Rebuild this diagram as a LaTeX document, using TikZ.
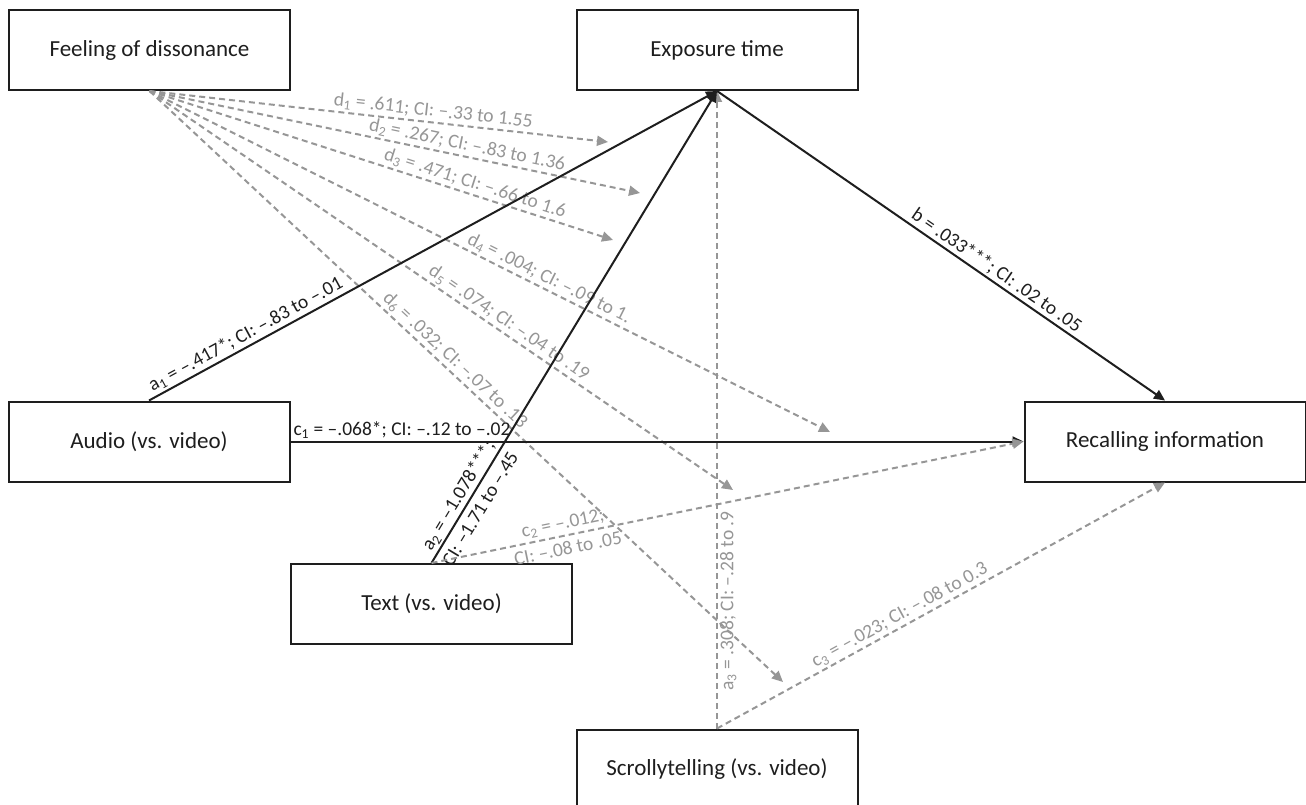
\documentclass[tikz,border=0pt]{standalone}
\usepackage{fontspec}
\setmainfont{Carlito}
\usetikzlibrary{arrows.meta, positioning, calc}
\definecolor{inkblack}{HTML}{1E1E1E}
\definecolor{modgray}{HTML}{969696}

\begin{document}
\begin{tikzpicture}[x=1pt, y=-1pt,
  >={Triangle[length=11pt, width=10pt]},
  varbox/.style={draw=inkblack, line width=2pt, fill=white, inner sep=0pt,
    minimum width=281pt, minimum height=80pt,
    font=\fontsize{23}{27}\selectfont, text=inkblack},
  effect/.style={->, line width=2pt, inkblack},
  modarr/.style={->, line width=2pt, modgray, dash pattern=on 6pt off 4pt},
  lbl/.style={font=\fontsize{19.5}{26}\selectfont, text=inkblack, sloped, inner sep=2pt},
  glbl/.style={lbl, text=modgray},
]
\useasboundingbox (0,0) rectangle (1306,805);

% === Variables ===
\node[varbox] (feel) at (149.5,50) {Feeling of dissonance};
\node[varbox] (expo) at (717,50) {Exposure time};
\node[varbox] (audio) at (149,441.5) {Audio (vs. video)};
\node[varbox] (recall) at (1165,441.5) {Recalling information};
\node[varbox] (txt) at (431.5,604) {Text (vs. video)};
\node[varbox] (scroll) at (717,769.5) {Scrollytelling (vs. video)};

% targets of the moderation arrows
\coordinate (d1end) at (608,142);
\coordinate (d2end) at (640,193);
\coordinate (d3end) at (613,240);
\coordinate (d4end) at (830,432);
\coordinate (d5end) at (733,490);
\coordinate (d6end) at (783,682);

% === Moderation by feeling of dissonance ===
\draw[modarr] (feel.south) -- (d1end) node[glbl, pos=0.616, above] {d\textsubscript{1} = .611; CI: –.33 to 1.55};
\draw[modarr] (feel.south) -- (d2end) node[glbl, pos=0.643, above] {d\textsubscript{2} = .267; CI: –.83 to 1.36};
\draw[modarr] (feel.south) -- (d3end) node[glbl, pos=0.695, above] {d\textsubscript{3} = .471; CI: –.66 to 1.6};
\draw[modarr] (feel.south) -- (d4end) node[glbl, pos=0.58, above] {d\textsubscript{4} = .004; CI: –.09 to 1.};
\draw[modarr] (feel.south) -- (d5end) node[glbl, pos=0.605, above] {d\textsubscript{5} = .074; CI: –.04 to .19};
\draw[modarr] (feel.south) -- (d6end) node[glbl, pos=0.47, above] {d\textsubscript{6} = .032; CI: –.07 to .13};

% === Paths to exposure time ===
\draw[modarr] (scroll.north) -- (expo.south) node[glbl, pos=0.2, below] {a\textsubscript{3} = .308; CI: –.28 to .9};
\draw[effect] (audio.north) -- (expo.south) node[lbl, pos=0.18, above] {a\textsubscript{1} = –.417*; CI: –.83 to –.01};
\draw[effect] (txt.north) -- (expo.south) node[lbl, pos=0.13, align=center] {a\textsubscript{2} = –1.078***;\\CI: –1.71 to –.45};

% === Paths to recalling information ===
\draw[effect] (expo.south) -- (recall.north) node[lbl, pos=0.61, above] {b = .033***; CI: .02 to .05};
\draw[effect] (audio.east) -- (recall.west) node[lbl, pos=0, anchor=south west] {c\textsubscript{1} = –.068*; CI: –.12 to –.02};
\draw[modarr] (txt.north) -- (recall.west) node[glbl, pos=0.226, align=center] {c\textsubscript{2} = –.012;\\CI: –.08 to .05};
\draw[modarr] (scroll.north) -- (recall.south) node[glbl, pos=0.42, above] {c\textsubscript{3} = –.023; CI: –.08 to 0.3};

\end{tikzpicture}
\end{document}
